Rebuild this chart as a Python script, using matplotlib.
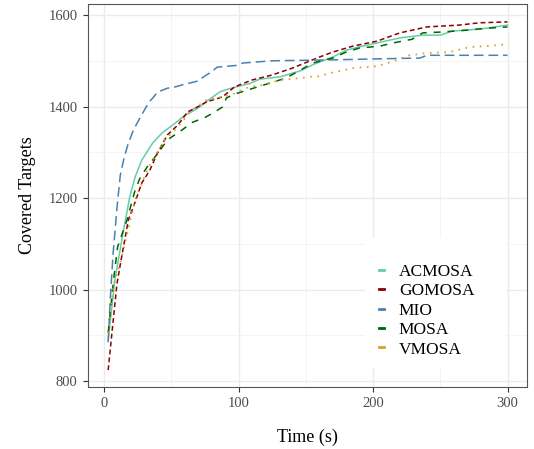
import matplotlib
matplotlib.use("Agg")
from matplotlib import pyplot as plt
from matplotlib.patches import Rectangle

# Coverage over time
acmosa_t = [3, 8, 14, 19, 23, 28, 36, 43, 53, 60, 66, 71, 78, 86, 92, 101, 108, 116,
            131, 146, 155, 160, 170, 180, 192, 203, 220, 237, 250, 259, 270, 284, 300]
acmosa_y = [890, 1021, 1123, 1202, 1246, 1283, 1320, 1342, 1364, 1381, 1390, 1399, 1415,
            1432, 1438, 1445, 1450, 1460, 1465, 1478, 1491, 1497, 1508, 1523, 1532, 1539,
            1550, 1556, 1556, 1565, 1567, 1571, 1578]

gomosa_t = [3, 6, 9.6, 13, 18, 23, 28, 34, 39, 47, 55, 62, 70, 76, 88, 97, 110, 125,
            140, 155, 160, 170, 185, 203, 220, 240, 264, 279, 300]
gomosa_y = [824, 911, 1014, 1071, 1152, 1191, 1233, 1261, 1294, 1338, 1360, 1388, 1400,
            1410, 1421, 1443, 1458, 1469, 1484, 1502, 1508, 1519, 1532, 1543, 1561, 1574,
            1578, 1583, 1585]

mio_t = [3, 4.5, 6.7, 9.6, 12, 15, 18, 22, 27, 33, 40, 47, 53, 60, 66, 70, 75, 80, 84,
         99, 103, 125, 170, 200, 235, 240, 300]
mio_y = [885, 977, 1080, 1180, 1250, 1290, 1320, 1350, 1377, 1408, 1432, 1440, 1443,
         1449, 1453, 1456, 1467, 1476, 1486, 1490, 1495, 1500, 1502, 1504, 1506, 1512, 1512]

mosa_t = [3, 7, 10, 17, 23, 27, 32, 40, 47, 58, 66, 75, 81, 88, 91, 99, 111, 123, 135,
          145, 155, 170, 180, 190, 205, 215, 229, 237, 252, 270, 284, 300]
mosa_y = [905, 1021, 1093, 1152, 1217, 1246, 1268, 1298, 1327, 1349, 1366, 1376, 1386,
          1399, 1419, 1429, 1440, 1451, 1462, 1478, 1495, 1506, 1519, 1528, 1532, 1539,
          1547, 1561, 1563, 1567, 1571, 1574]

vmosa_t = [3, 7, 13, 23, 30, 33, 45, 54, 62, 65, 76, 94, 108, 118, 131, 145, 153, 160,
           168, 173, 185, 203, 215, 227, 240, 257, 272, 284, 300]
vmosa_y = [905, 1010, 1069, 1196, 1246, 1268, 1327, 1353, 1381, 1392, 1414, 1425, 1443,
           1447, 1458, 1462, 1465, 1466, 1473, 1476, 1484, 1488, 1499, 1512, 1517, 1519,
           1530, 1532, 1536]

x_ticks = [0, 100, 200, 300]
y_ticks = [800, 1000, 1200, 1400, 1600]

plt.rcParams['font.family'] = ['Liberation Serif', 'DejaVu Serif']
plt.rcParams['lines.scale_dashes'] = False

fig = plt.figure(figsize=(5.34, 4.49), dpi=100)
ax = fig.add_axes([0.1648, 0.138, 0.8221, 0.853])

series = [
    ('ACMOSA', acmosa_t, acmosa_y, '#66CDAA', '-', 1.1),
    ('GOMOSA', gomosa_t, gomosa_y, '#8B0000', (0, (3.5, 2.2)), 1.1),
    ('MIO', mio_t, mio_y, '#4682B4', (0, (7, 3.5)), 1.1),
    ('MOSA', mosa_t, mosa_y, '#006400', (0, (5, 5)), 1.1),
    ('VMOSA', vmosa_t, vmosa_y, '#D9A02A', (0, (1.2, 4)), 1.3),
]
for name, t, y, color, ls, lw in series:
    ax.plot(t, y, color=color, linestyle=ls, linewidth=lw, label=name, zorder=3)

ax.set_xlim(-12, 314.5)
ax.set_ylim(787, 1624)
ax.set_xticks(x_ticks)
ax.set_yticks(y_ticks)
ax.set_xticks([50, 150, 250], minor=True)
ax.set_yticks([900, 1100, 1300, 1500], minor=True)
ax.grid(which='major', color='#EBEBEB', linewidth=1.0)
ax.grid(which='minor', color='#F2F2F2', linewidth=0.6)
ax.set_axisbelow(True)
ax.tick_params(which='major', direction='out', length=3.5, width=0.8, color='#333333',
               labelsize=10.5, labelcolor='#4D4D4D', pad=4)
ax.tick_params(which='minor', length=0)
for sp in ax.spines.values():
    sp.set_color('#555555')
    sp.set_linewidth(0.8)

ax.set_xlabel('Time (s)', fontsize=13, labelpad=13)
ax.set_ylabel('Covered Targets', fontsize=13, labelpad=9)

# white legend background over the grid
ax.add_patch(Rectangle((0.631, 0.05), 0.321, 0.339, transform=ax.transAxes,
                       facecolor='white', edgecolor='none', zorder=2))
leg = ax.legend(loc='upper left', bbox_to_anchor=(0.643, 0.345), frameon=False,
                fontsize=12.5, handlelength=0.3, handletextpad=0.85, labelspacing=0.19,
                borderpad=0)
for h in leg.get_lines():
    h.set_linestyle('-')
    h.set_linewidth(2.0)

fig.savefig('out.png', dpi=100)
